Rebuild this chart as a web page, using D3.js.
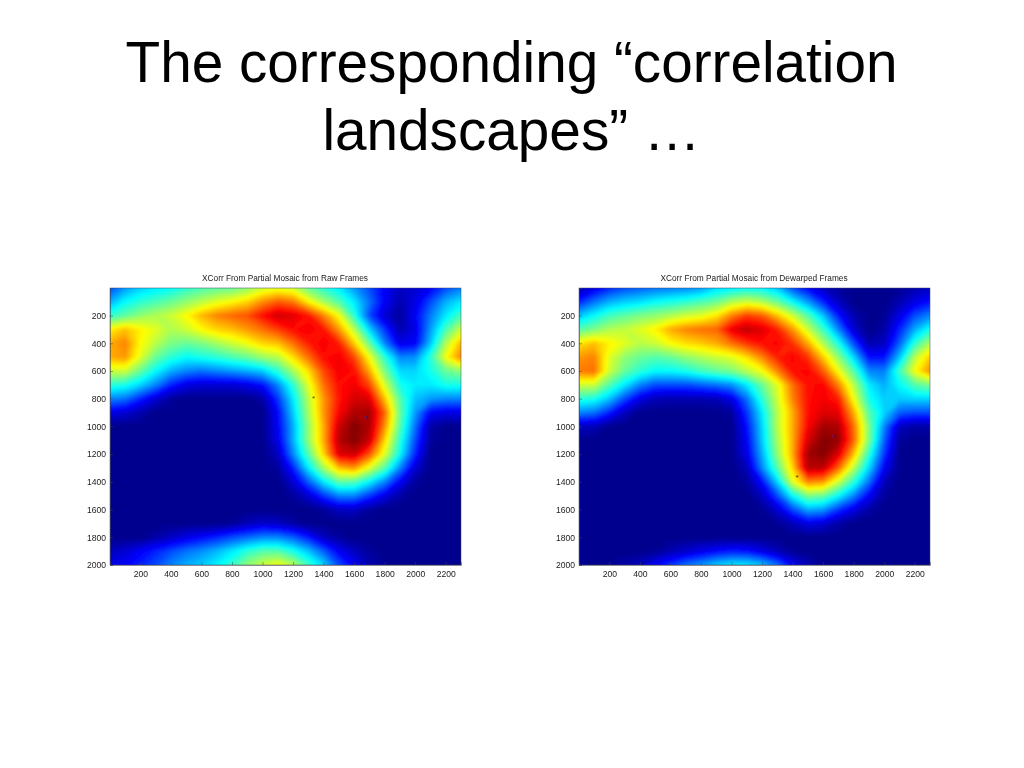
<!DOCTYPE html>
<html><head><meta charset="utf-8">
<script src="https://cdn.jsdelivr.net/npm/d3@7"></script>
<style>html,body{margin:0;padding:0;background:#fff}svg{display:block}text{font-family:"Liberation Sans",Arial,sans-serif}</style>
</head><body>
<svg id="c" width="1024" height="768"></svg>
<script>
const slideTitle = ["The corresponding “correlation", "landscapes” …"];
const panelTitles = ["XCorr From Partial Mosaic from Raw Frames", "XCorr From Partial Mosaic from Dewarped Frames"];
const xTicks = [200,400,600,800,1000,1200,1400,1600,1800,2000,2200];
const yTicks = [200,400,600,800,1000,1200,1400,1600,1800,2000];
const gridStep = 100;
const jetStops = [0,.125,.375,.625,.875,1];
const jetColors = ["#00008f","#0000ff","#00ffff","#ffff00","#ff0000","#800000"];
// columns x = 0,100,...,2300; rows y = 0,100,...,2000
const rawFrames = [
[.20,.28,.33,.36,.38,.42,.45,.47,.48,.52,.58,.60,.58,.48,.42,.36,.28,.20,.12,.06,.08,.12,.20,.25],
[.30,.38,.42,.45,.48,.52,.56,.60,.63,.67,.74,.79,.76,.64,.54,.46,.36,.24,.12,.04,.10,.20,.30,.36],
[.42,.47,.52,.55,.58,.63,.70,.75,.78,.80,.87,.93,.91,.86,.75,.62,.42,.20,.08,.02,.12,.25,.36,.45],
[.64,.69,.64,.60,.55,.58,.63,.67,.69,.73,.77,.82,.87,.89,.86,.73,.56,.34,.18,.04,.10,.28,.45,.58],
[.71,.75,.63,.56,.50,.48,.50,.54,.58,.62,.67,.69,.77,.85,.89,.85,.68,.48,.26,.10,.12,.32,.55,.70],
[.71,.73,.60,.48,.42,.38,.40,.42,.45,.48,.53,.56,.66,.77,.87,.89,.81,.62,.42,.26,.27,.42,.62,.75],
[.58,.58,.48,.38,.30,.26,.24,.26,.28,.30,.33,.42,.54,.66,.81,.89,.87,.71,.50,.34,.34,.40,.48,.52],
[.42,.40,.34,.26,.16,.10,.08,.08,.08,.10,.14,.26,.42,.60,.77,.87,.89,.81,.59,.40,.36,.36,.40,.40],
[.26,.24,.16,.08,.02,0,0,0,0,0,.03,.18,.36,.56,.73,.86,.92,.91,.69,.46,.32,.28,.26,.26],
[.10,.08,.04,0,0,0,0,0,0,0,0,.13,.33,.54,.73,.88,.96,.97,.78,.48,.28,.12,.10,.10],
[0,0,0,0,0,0,0,0,0,0,0,.12,.30,.52,.71,.93,1,.96,.74,.46,.24,.03,0,0],
[0,0,0,0,0,0,0,0,0,0,0,.10,.30,.52,.71,.95,1,.93,.67,.42,.20,.02,0,0],
[0,0,0,0,0,0,0,0,0,0,0,.06,.26,.46,.67,.91,.93,.80,.60,.38,.16,0,0,0],
[0,0,0,0,0,0,0,0,0,0,0,.02,.16,.36,.54,.69,.73,.60,.46,.26,.08,0,0,0],
[0,0,0,0,0,0,0,0,0,0,0,0,.08,.22,.36,.47,.46,.37,.26,.12,.02,0,0,0],
[0,0,0,0,0,0,0,0,0,0,0,0,.02,.08,.18,.26,.26,.18,.10,.03,0,0,0,0],
[0,0,0,0,0,0,0,0,0,0,0,0,0,0,.02,.06,.06,.02,0,0,0,0,0,0],
[0,0,0,0,0,0,0,0,.01,.05,.07,.06,.03,0,0,0,0,0,0,0,0,0,0,0],
[0,0,0,.03,.06,.10,.13,.16,.20,.23,.26,.26,.22,.15,.06,.02,0,0,0,0,0,0,0,0],
[.05,.08,.12,.16,.20,.24,.27,.31,.36,.42,.46,.46,.40,.32,.22,.12,.06,.02,0,0,0,0,0,0],
[.10,.12,.16,.20,.26,.30,.33,.37,.43,.52,.58,.62,.56,.44,.34,.20,.12,.04,.01,0,0,0,0,0]
];
const dewarpedFrames = [
[.04,.10,.16,.20,.22,.24,.25,.26,.28,.34,.36,.38,.37,.32,.20,.12,.06,.02,0,0,0,.01,.04,.06],
[.16,.24,.30,.33,.35,.38,.40,.42,.45,.48,.55,.58,.55,.48,.38,.28,.16,.06,0,0,0,.04,.10,.14],
[.32,.38,.44,.47,.50,.52,.55,.58,.60,.65,.75,.82,.79,.69,.58,.46,.32,.15,.04,0,.01,.10,.20,.26],
[.46,.50,.55,.57,.60,.64,.71,.75,.77,.78,.90,.94,.91,.85,.73,.58,.44,.26,.08,0,.03,.16,.30,.40],
[.65,.69,.64,.60,.56,.58,.63,.66,.68,.71,.77,.83,.87,.88,.83,.71,.55,.40,.20,.04,.06,.22,.42,.55],
[.73,.75,.60,.52,.48,.46,.48,.52,.55,.58,.60,.66,.75,.85,.88,.83,.68,.52,.34,.14,.14,.32,.56,.68],
[.76,.77,.58,.48,.42,.38,.38,.40,.44,.47,.50,.56,.62,.75,.87,.88,.79,.62,.46,.26,.25,.44,.62,.74],
[.58,.58,.46,.36,.26,.20,.20,.20,.22,.24,.27,.36,.48,.60,.77,.87,.88,.75,.56,.36,.30,.38,.46,.50],
[.42,.40,.32,.20,.10,.05,.04,.04,.04,.05,.10,.24,.42,.58,.75,.87,.89,.85,.62,.40,.33,.33,.34,.34],
[.26,.24,.16,.06,0,0,0,0,0,0,.02,.18,.36,.56,.71,.87,.91,.90,.71,.46,.34,.22,.20,.20],
[.06,.05,0,0,0,0,0,0,0,0,0,.14,.34,.56,.71,.88,.97,.96,.77,.50,.26,.06,.03,.03],
[0,0,0,0,0,0,0,0,0,0,0,.12,.33,.54,.71,.92,1,.98,.78,.50,.22,.02,0,0],
[0,0,0,0,0,0,0,0,0,0,0,.10,.30,.52,.71,.97,1,.91,.69,.42,.18,0,0,0],
[0,0,0,0,0,0,0,0,0,0,0,.05,.26,.46,.67,.95,.94,.78,.56,.34,.12,0,0,0],
[0,0,0,0,0,0,0,0,0,0,0,.02,.14,.34,.60,.75,.73,.58,.42,.24,.05,0,0,0],
[0,0,0,0,0,0,0,0,0,0,0,0,.06,.20,.38,.50,.48,.38,.26,.12,.02,0,0,0],
[0,0,0,0,0,0,0,0,0,0,0,0,.01,.08,.20,.30,.28,.18,.10,.03,0,0,0,0],
[0,0,0,0,0,0,0,0,0,0,0,0,0,.01,.05,.10,.08,.03,0,0,0,0,0,0],
[0,0,0,0,0,0,0,0,0,0,0,0,0,0,0,0,0,0,0,0,0,0,0,0],
[0,0,0,0,0,.01,.04,.07,.10,.13,.15,.14,.10,.05,.01,0,0,0,0,0,0,0,0,0],
[0,0,.01,.03,.06,.12,.18,.24,.28,.33,.36,.36,.32,.24,.12,.05,.01,0,0,0,0,0,0,0]
];
const rawMarkers = [{x:1335,y:795,c:"#7a3a10"},{x:1680,y:940,c:"#2020b0"}];
const dewarpedMarkers = [{x:1430,y:1365,c:"#5a2a10"},{x:1670,y:1075,c:"#2020b0"}];

const svg = d3.select("#c");
const defs = svg.append("defs");
defs.append("filter").attr("id","soft").attr("x","-5%").attr("y","-5%").attr("width","110%").attr("height","110%")
  .append("feGaussianBlur").attr("stdDeviation",1.5);
defs.append("filter").attr("id","softText").attr("x","-5%").attr("y","-5%").attr("width","110%").attr("height","110%")
  .append("feGaussianBlur").attr("stdDeviation",.3);
slideTitle.forEach((t,i)=>svg.append("text").attr("x",511.5).attr("y",[82,150][i]).attr("text-anchor","middle")
  .attr("font-size",56.7).attr("fill","#000").text(t));

const jet = d3.scaleLinear().domain(jetStops).range(jetColors).interpolate(d3.interpolateRgb).clamp(true);
const thresholds = d3.range(1,128).map(i=>i/128);

function panel(id,left,title,rows,markers){
  const W=351,H=277,top=288;
  const x=d3.scaleLinear().domain([1,2300]).range([left,left+W]);
  const y=d3.scaleLinear().domain([1,2000]).range([top,top+H]);
  const ny=rows.length,nx=rows[0].length;
  const flat=rows.flat();
  const contours=d3.contours().size([nx,ny]).smooth(true).thresholds(thresholds)(flat);
  const proj=d3.geoTransform({point(cx,cy){this.stream.point(x((cx-.5)*gridStep),y((cy-.5)*gridStep));}});
  const path=d3.geoPath(proj);
  defs.append("clipPath").attr("id",id).append("rect").attr("x",left).attr("y",top).attr("width",W).attr("height",H);
  const outer=svg.append("g").attr("clip-path",`url(#${id})`);
  const g=outer.append("g").attr("filter","url(#soft)");
  g.append("rect").attr("x",left-20).attr("y",top-20).attr("width",W+40).attr("height",H+40).attr("fill",jet(0));
  g.selectAll("path").data(contours).join("path").attr("d",path).attr("fill",d=>jet(d.value));
  outer.selectAll("text").data(markers).join("text").attr("x",d=>x(d.x)).attr("y",d=>y(d.y)+3)
    .attr("text-anchor","middle").attr("font-size",8).attr("fill",d=>d.c).text("*");
  const style=s=>{s.select(".domain").attr("stroke","#444").attr("stroke-width",.5);
    s.selectAll(".tick line").attr("stroke","#444").attr("stroke-width",.5);
    s.selectAll("text").attr("font-size",8.6).attr("fill","#222").attr("font-family","Liberation Sans").attr("filter","url(#softText)");};
  svg.append("g").attr("transform",`translate(0,${top+H})`).call(d3.axisBottom(x).tickValues(xTicks).tickSize(-3).tickPadding(6).tickFormat(d3.format("d"))).call(style);
  svg.append("g").attr("transform",`translate(${left},0)`).call(d3.axisLeft(y).tickValues(yTicks).tickSize(-3).tickPadding(4).tickFormat(d3.format("d"))).call(style);
  svg.append("rect").attr("x",left).attr("y",top).attr("width",W).attr("height",H).attr("fill","none").attr("stroke","#446").attr("stroke-width",.5);
  svg.append("text").attr("x",left+W/2-.5).attr("y",top-7).attr("text-anchor","middle").attr("font-size",8.3).attr("fill","#222").attr("filter","url(#softText)").text(title);
}
panel("p1",110,panelTitles[0],rawFrames,rawMarkers);
panel("p2",579,panelTitles[1],dewarpedFrames,dewarpedMarkers);
</script>
</body></html>
